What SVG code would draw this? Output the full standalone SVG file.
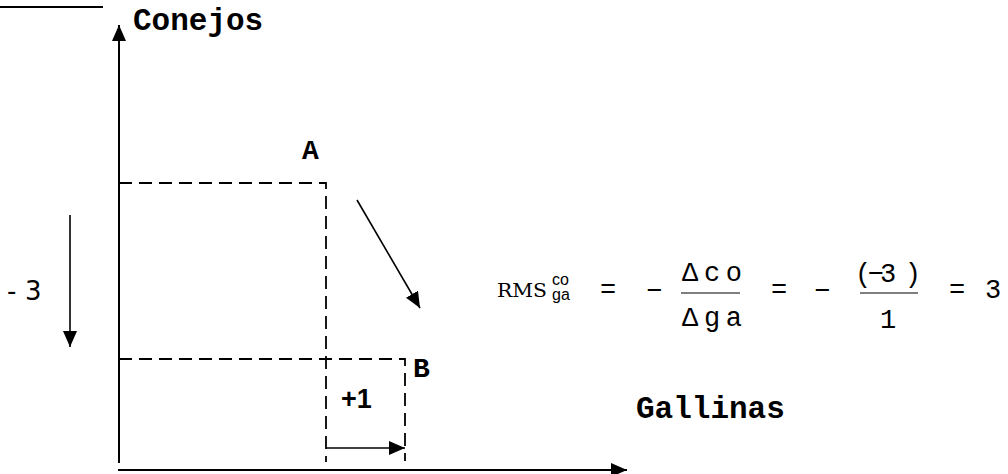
<svg xmlns="http://www.w3.org/2000/svg" width="1008" height="474" viewBox="0 0 1008 474">
  <style>
    .axis { stroke: #000; stroke-width: 2; fill: none; }
    .thin { stroke: #000; stroke-width: 1.6; fill: none; }
    .dash { stroke: #000; stroke-width: 1.8; fill: none; stroke-dasharray: 13 7; }
    .bar { stroke: #000; stroke-width: 1.2; }
    .lbl { font-family: "Liberation Mono", "Courier New", monospace; font-weight: bold; font-size: 31px; fill: #000; }
    .pt { font-family: "Liberation Mono", "Courier New", monospace; font-weight: bold; font-size: 28px; fill: #000; }
    .mono { font-family: "Liberation Mono", "Courier New", monospace; font-size: 27px; fill: #000; }
    .serif { font-family: "DejaVu Serif", "Liberation Serif", serif; font-size: 19px; fill: #000; }
    .small { font-family: "Liberation Sans", Arial, sans-serif; font-size: 16px; fill: #000; }
    .sans { font-family: "DejaVu Sans", sans-serif; font-size: 26px; fill: #000; }
    .sansb { font-family: "Liberation Sans", Arial, sans-serif; font-weight: bold; font-size: 27px; fill: #000; }
  </style>
  <defs>
    <marker id="head" viewBox="0 0 16 14" refX="16" refY="7" markerWidth="16" markerHeight="14" markerUnits="userSpaceOnUse" orient="auto">
      <path d="M0,0 L16,7 L0,14 z" fill="#000"/>
    </marker>
  </defs>

  <!-- top-left rule -->
  <line x1="0" y1="7" x2="103" y2="7" class="axis" stroke-width="1.6"/>

  <!-- axes -->
  <g id="axes">
    <line id="y-axis" x1="119" y1="463" x2="119" y2="25" class="axis" marker-end="url(#head)"/>
    <line id="x-axis" x1="118" y1="470" x2="627" y2="470" class="axis" marker-end="url(#head)"/>
    <text class="lbl" x="133" y="30">Conejos</text>
    <text class="lbl" x="636" y="418">Gallinas</text>
  </g>

  <!-- point A -->
  <g id="point-a">
    <text class="pt" x="302" y="159">A</text>
  </g>

  <!-- point B -->
  <g id="point-b">
    <text class="pt" x="413" y="377">B</text>
  </g>

  <!-- guide lines and change arrows -->
  <g id="connectors">
    <path class="dash" d="M119,183 H326 V462"/>
    <path class="dash" d="M119,359 H405 V461"/>
    <line class="thin" x1="326" y1="448" x2="405" y2="448" marker-end="url(#head)"/>
    <line class="thin" x1="70" y1="215" x2="70" y2="347" marker-end="url(#head)"/>
    <line class="thin" x1="357" y1="200" x2="420" y2="308" marker-end="url(#head)"/>
  </g>

  <!-- change labels -->
  <g id="delta-labels">
    <text class="sans" x="7 25" y="300">-3</text>
    <text class="sansb" x="341" y="408">+1</text>
  </g>

  <!-- marginal rate of substitution -->
  <g id="equation">
    <text class="serif" x="497" y="297" textLength="50" lengthAdjust="spacingAndGlyphs">RMS</text>
    <text class="small" x="552" y="285">co</text>
    <text class="small" x="552" y="300">ga</text>
    <text class="mono" x="608" y="298" text-anchor="middle">=</text>
    <text class="mono" x="654" y="299" text-anchor="middle">−</text>
    <text class="mono" x="682" y="281" textLength="60">Δco</text>
    <line class="bar" x1="681" y1="293" x2="740" y2="293"/>
    <text class="mono" x="682" y="326" textLength="60">Δga</text>
    <text class="mono" x="779" y="298" text-anchor="middle">=</text>
    <text class="mono" x="822" y="299" text-anchor="middle">−</text>
    <text class="mono" x="855" y="282" textLength="66">(−3 )</text>
    <line class="bar" x1="860" y1="293" x2="918" y2="293"/>
    <text class="mono" x="888" y="328" text-anchor="middle">1</text>
    <text class="mono" x="957" y="298" text-anchor="middle">=</text>
    <text class="mono" x="993" y="298" text-anchor="middle">3</text>
  </g>
</svg>
